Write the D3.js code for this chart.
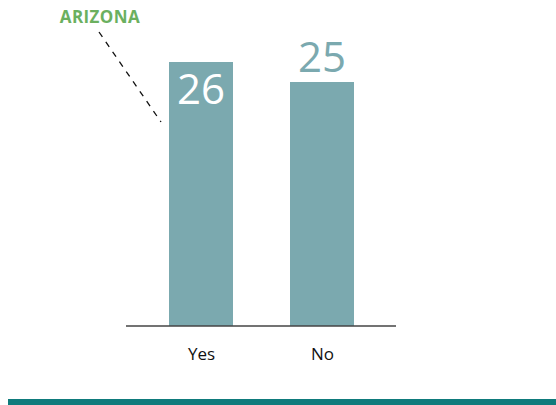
<!DOCTYPE html>
<html>
<head>
<meta charset="utf-8">
<script src="https://cdn.jsdelivr.net/npm/d3@7"></script>
<style>
  html, body { margin: 0; padding: 0; background: #fff; }
  svg { display: block; }
</style>
</head>
<body>
<svg id="chart" width="556" height="405"></svg>
<script>
// Survey answers for Arizona
const categories = ["Yes", "No"];
const values = [26, 25];
const stateLabel = "ARIZONA";

const W = 556, H = 405;
const baseY = 326;
const barW = 64;
const svg = d3.select("#chart");

const barColor = "#7ba9af";
const font = "'Open Sans', 'Noto Sans', sans-serif";

// category centres
const x = d3.scalePoint()
  .domain(categories)
  .range([201, 322]);

const y = d3.scaleLinear()
  .domain([12.8, 26])
  .range([baseY, 62]);

const rows = categories.map((c, i) => ({ cat: c, value: values[i], i }));

// bars
svg.selectAll("rect.bar")
  .data(rows)
  .join("rect")
  .attr("class", "bar")
  .attr("x", d => x(d.cat) - barW / 2)
  .attr("width", barW)
  .attr("y", d => y(d.value))
  .attr("height", d => baseY - y(d.value))
  .attr("fill", barColor);

// value labels: first sits inside its bar, second above
svg.selectAll("text.val")
  .data(rows)
  .join("text")
  .attr("class", "val")
  .attr("x", d => x(d.cat))
  .attr("y", d => d.i === 0 ? y(d.value) + 42 : y(d.value) - 10)
  .attr("text-anchor", "middle")
  .attr("font-family", font)
  .attr("font-size", 42)
  .attr("fill", d => d.i === 0 ? "#ffffff" : barColor)
  .text(d => d.value);

// baseline axis
const gx = svg.append("g")
  .attr("transform", `translate(0,${baseY})`)
  .call(d3.axisBottom(x).tickSize(0).tickPadding(0));
gx.select(".domain")
  .attr("stroke", "#444")
  .attr("stroke-width", 1.5)
  .attr("d", "M126,0H396");
gx.selectAll(".tick text")
  .attr("y", 34)
  .attr("dy", 0)
  .attr("font-family", font)
  .attr("font-size", 17)
  .attr("fill", "#111");

// state label with dashed leader line
svg.append("text")
  .attr("x", 100)
  .attr("y", 23)
  .attr("text-anchor", "middle")
  .attr("font-family", font)
  .attr("font-weight", "bold")
  .attr("font-size", 17)
  .attr("letter-spacing", 0.4)
  .attr("fill", "#6bb05f")
  .text(stateLabel);

svg.append("line")
  .attr("x1", 99).attr("y1", 32)
  .attr("x2", 161).attr("y2", 122)
  .attr("stroke", "#111")
  .attr("stroke-width", 1.3)
  .attr("stroke-dasharray", "6,6");

// footer rule
svg.append("rect")
  .attr("x", 8).attr("y", 399)
  .attr("width", W - 8).attr("height", 6)
  .attr("fill", "#0f7b7c");
</script>
</body>
</html>
